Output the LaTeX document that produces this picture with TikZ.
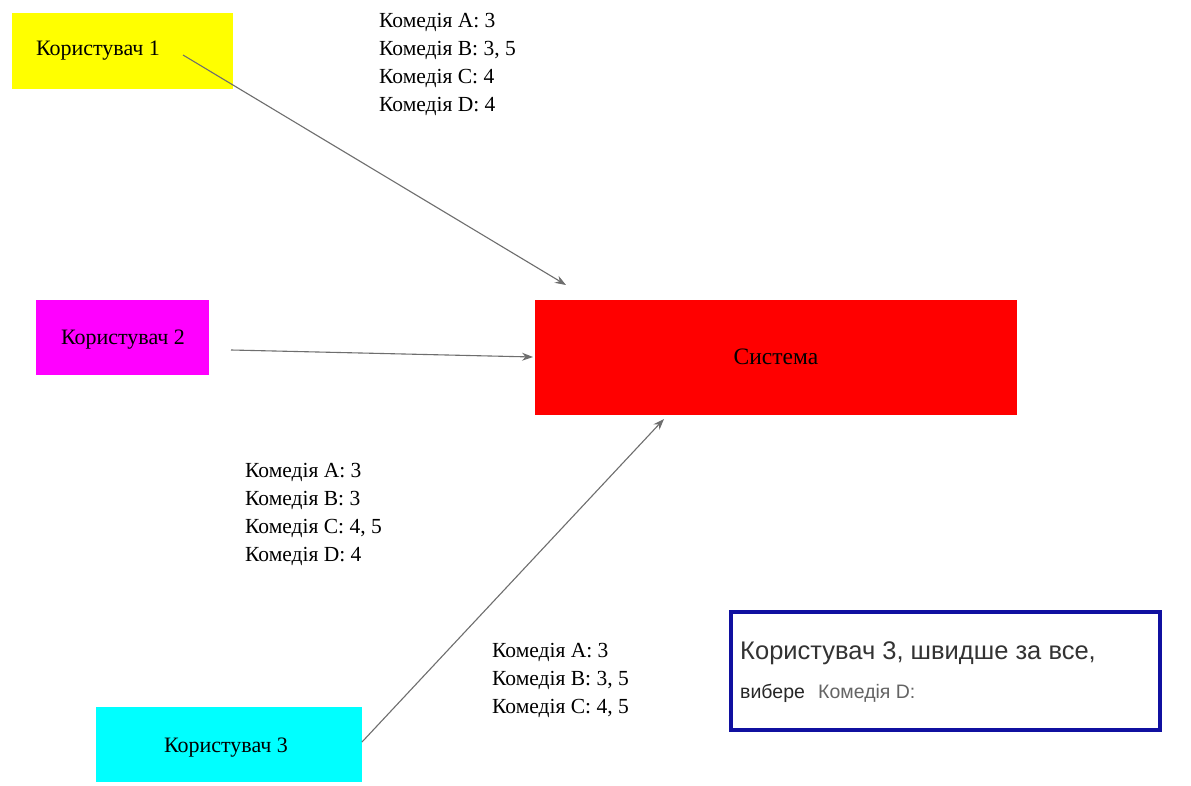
\documentclass[tikz,border=0pt]{standalone}
\usepackage{fontspec}
\setmainfont{Liberation Serif}
\newfontfamily\notefont{Liberation Sans}
\usetikzlibrary{arrows.meta}
\definecolor{linkgray}{RGB}{110,110,110}
\definecolor{noteblue}{RGB}{16,16,160}
\definecolor{notegray}{RGB}{100,100,100}
\definecolor{boxyellow}{RGB}{255,255,0}
\definecolor{boxmagenta}{RGB}{255,0,255}
\definecolor{boxred}{RGB}{255,0,0}
\definecolor{boxcyan}{RGB}{0,255,255}
\tikzset{
  userlabel/.style={font=\fontsize{22}{26}\selectfont, inner sep=0pt},
  ratings/.style={font=\fontsize{21.5}{28}\selectfont, align=left, anchor=north west, inner sep=0pt},
  link/.style={draw=linkgray, line width=1.1pt, -{Stealth[length=11pt,width=8pt]}},
}
\begin{document}
\begin{tikzpicture}[x=1pt,y=-1pt]
\useasboundingbox (0,0) rectangle (1191,786);
\fill[white] (0,0) rectangle (1191,786);

% user boxes and the system box
\fill[boxyellow] (12,13) rectangle (233,89);
\fill[boxmagenta] (36,300) rectangle (209,375);
\fill[boxred] (535,300) rectangle (1017,415);
\fill[boxcyan] (96,707) rectangle (362,782);

\node[userlabel] (u1) at (98,51) {Користувач 1};
\node[userlabel] (u2) at (123,340) {Користувач 2};
\node[userlabel, font=\fontsize{23.5}{28}\selectfont] (sys) at (776,357) {Система};
\node[userlabel] (u3) at (226,748) {Користувач 3};

% rating lists
\node[ratings] (r1) at (379,13) {Комедія A: 3\\Комедія B: 3, 5\\Комедія C: 4\\Комедія D: 4};
\node[ratings] (r2) at (245,463) {Комедія A: 3\\Комедія B: 3\\Комедія C: 4, 5\\Комедія D: 4};
\node[ratings] (r3) at (492,643) {Комедія A: 3\\Комедія B: 3, 5\\Комедія C: 4, 5};

% prediction note
\draw[noteblue, line width=3.5pt] (731,612) rectangle (1160,730);
\node[anchor=base west, inner sep=0pt, font=\notefont\fontsize{25.5}{30}\selectfont, text=black!80] (n1) at (740,659) {Користувач 3, швидше за все,};
\node[anchor=base west, inner sep=0pt, font=\notefont\fontsize{19.5}{24}\selectfont, text=black!85] (n2) at (740,698) {вибере};
\node[anchor=base west, inner sep=0pt, font=\notefont\fontsize{19.5}{24}\selectfont, text=notegray] (n3) at (818,698) {Комедія D:};

% connectors
\coordinate (s1) at (183,55);
\coordinate (e1) at (566,285);
\coordinate (s2) at (231,350);
\coordinate (e2) at (533,357);
\coordinate (s3) at (362,742);
\coordinate (e3) at (664,419);
\draw[link] (s1) -- (e1);
\draw[link] (s2) -- (e2);
\draw[link] (s3) -- (e3);
\end{tikzpicture}
\end{document}
